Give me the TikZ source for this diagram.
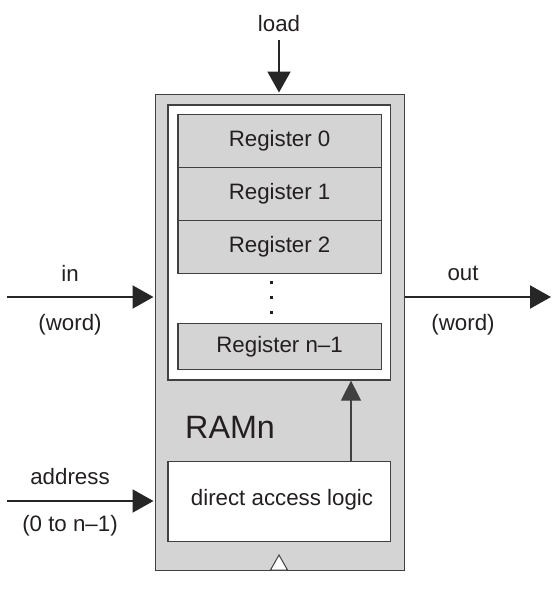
\documentclass[tikz,border=0pt]{standalone}
\usepackage{fontspec}
\setmainfont{Liberation Sans}
\usetikzlibrary{arrows.meta}
\definecolor{boxgray}{RGB}{212,212,212}
\definecolor{linegray}{RGB}{64,64,64}
\definecolor{txt}{RGB}{35,31,32}
\tikzset{
  lbl/.style={font=\fontsize{22.3}{26}\selectfont, text=txt, inner sep=0pt},
  regbox/.style={draw=linegray, line width=1.2pt, fill=boxgray, minimum width=203.4pt, minimum height=53pt, inner sep=0pt, font=\fontsize{22.3}{26}\selectfont, text=txt},
  bigarrow/.style={draw=black!85, line width=2pt, -{Triangle[length=21pt,width=23pt]}},
  smallarrow/.style={draw=linegray, line width=1.1pt, -{Triangle[length=20pt,width=20pt]}},
  dotmark/.style={fill=txt, minimum size=3pt, inner sep=0pt}
}
\begin{document}
\begin{tikzpicture}[x=1pt,y=-1pt]
\useasboundingbox (0,0) rectangle (559,592);
% outer RAM box
\node[draw=linegray, line width=1.3pt, fill=boxgray, minimum width=249pt, minimum height=476pt, inner sep=0pt, anchor=north west] (ram) at (155,94) {};
% inner white box
\node[draw=linegray, line width=1.3pt, fill=white, minimum width=222.7pt, minimum height=275pt, inner sep=0pt, anchor=north west] (mem) at (167.3,104.3) {};
% registers
\node[regbox, anchor=north west, minimum height=53.2pt] (r0) at (177.3,113.5) {Register 0};
\node[regbox, anchor=north west, minimum height=53.3pt] (r1) at (177.3,166.7) {Register 1};
\node[regbox, anchor=north west, minimum height=52.7pt] (r2) at (177.3,220) {Register 2};
\node[regbox, anchor=north west, minimum height=46.3pt] (rn) at (177.3,322.7) {Register n–1};
% dots
\node[dotmark] (d1) at (271.7,282) {};
\node[dotmark] (d2) at (271.7,297) {};
\node[dotmark] (d3) at (271.7,312.5) {};
% direct access logic
\node[draw=linegray, line width=1.3pt, fill=white, minimum width=222.7pt, minimum height=80pt, inner sep=0pt, anchor=north west] (dal) at (167.3,460.7) {};
\node[lbl] (daltext) at (282,500) {direct access logic};
% RAMn label
\node[font=\fontsize{32.3}{38}\selectfont, text=txt, inner sep=0pt, anchor=west] (ramn) at (185,427) {RAMn};
% clock triangle
\coordinate (clkL) at (270.5,570);
\coordinate (clkT) at (279,555);
\coordinate (clkR) at (287.5,570);
\draw[draw=linegray, line width=1pt, fill=white] (clkL) -- (clkT) -- (clkR) -- cycle;
% labels
\node[lbl] (load) at (279,24) {load};
\node[lbl] (in) at (70,273) {in};
\node[lbl] (inw) at (70,325) {(word)};
\node[lbl] (out) at (463,273) {out};
\node[lbl] (outw) at (463,325) {(word)};
\node[lbl] (addr) at (70,477) {address};
\node[lbl] (addrr) at (70,526) {(0 to n–1)};
% connector endpoints
\coordinate (loadS) at (279,40);
\coordinate (inS) at (7,297);
\coordinate (outE) at (551,297);
\coordinate (addrS) at (7,501);
\coordinate (dalup) at (351,460.7);
% connectors
\draw[bigarrow] (loadS) -- ([yshift=1.5pt]loadS |- ram.north);
\draw[bigarrow] (inS) -- ([xshift=-1.5pt]ram.west |- inS);
\draw[bigarrow] (ram.east |- outE) -- (outE);
\draw[bigarrow] (addrS) -- ([xshift=-1.5pt]ram.west |- addrS);
\draw[smallarrow] (dalup) -- (dalup |- mem.south);
\end{tikzpicture}
\end{document}
